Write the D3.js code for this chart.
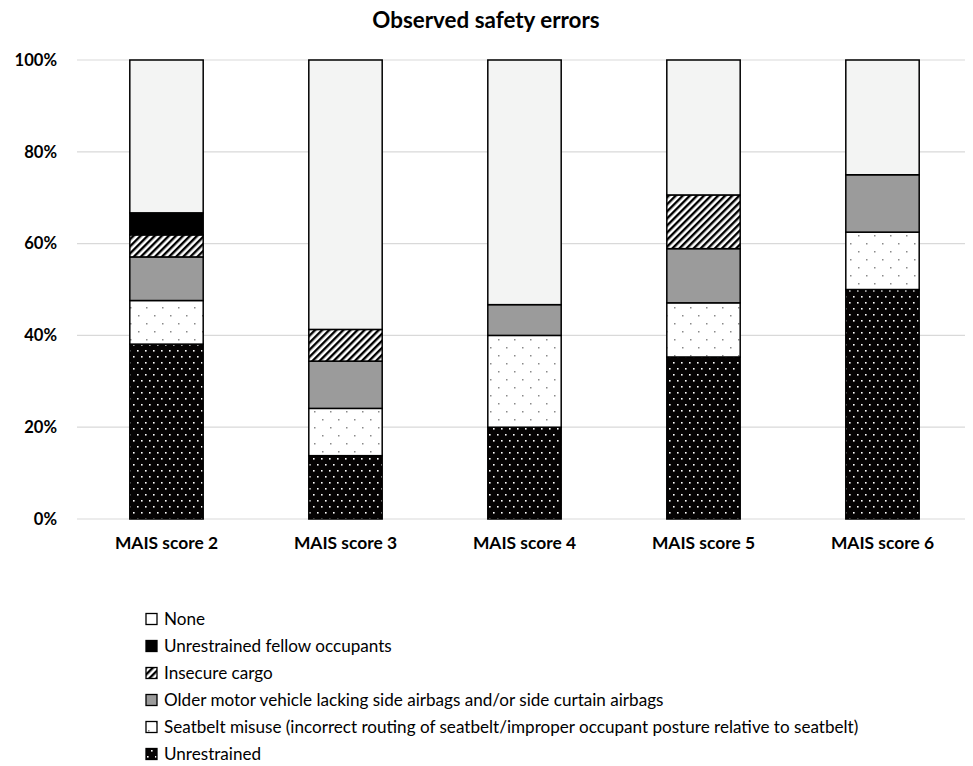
<!DOCTYPE html>
<html>
<head>
<meta charset="utf-8">
<script src="https://cdn.jsdelivr.net/npm/d3@7"></script>
<style>
  html, body { margin: 0; padding: 0; background: #ffffff; }
  svg { display: block; }
  text { font-family: Lato, "Open Sans", sans-serif; fill: #000; }
</style>
</head>
<body>
<div id="chart"></div>
<script>
// Categories (injury severity groups)
const categories = ["MAIS score 2", "MAIS score 3", "MAIS score 4", "MAIS score 5", "MAIS score 6"];

// Share of cases (%) per safety error, bottom to top of each stack
const unrestrained      = [38.1, 13.8, 20.0, 35.3, 50.0];
const seatbeltMisuse    = [9.5, 10.3, 20.0, 11.8, 12.5];
const olderVehicle      = [9.5, 10.3, 6.7, 11.8, 12.5];
const insecureCargo     = [4.8, 6.9, 0, 11.7, 0];
const fellowOccupants   = [4.8, 0, 0, 0, 0];
const none              = [33.3, 58.7, 53.3, 29.4, 25.0];

const seriesNames = [
  "Unrestrained",
  "Seatbelt misuse (incorrect routing of seatbelt/improper occupant posture relative to seatbelt)",
  "Older motor vehicle lacking side airbags and/or side curtain airbags",
  "Insecure cargo",
  "Unrestrained fellow occupants",
  "None"
];
const seriesValues = [unrestrained, seatbeltMisuse, olderVehicle, insecureCargo, fellowOccupants, none];
const yTicks = [0, 20, 40, 60, 80, 100];

const W = 973, H = 766;
const margin = { left: 77, right: 1, top: 60, bottom: 247 };

const svg = d3.select("#chart").append("svg").attr("width", W).attr("height", H);
const defs = svg.append("defs");

// Fill patterns
const pDots = defs.append("pattern").attr("id", "pat-unrestrained")
  .attr("patternUnits", "userSpaceOnUse").attr("width", 8).attr("height", 12);
pDots.append("rect").attr("width", 8).attr("height", 12).attr("fill", "#050303");
pDots.append("rect").attr("x", 1).attr("y", 2).attr("width", 1.6).attr("height", 1.6).attr("fill", "#ffffff");
pDots.append("rect").attr("x", 5).attr("y", 8).attr("width", 1.6).attr("height", 1.6).attr("fill", "#ffffff");

const pSparse = defs.append("pattern").attr("id", "pat-seatbelt")
  .attr("patternUnits", "userSpaceOnUse").attr("width", 16).attr("height", 16);
pSparse.append("rect").attr("width", 16).attr("height", 16).attr("fill", "#ffffff");
pSparse.append("rect").attr("x", 2).attr("y", 3).attr("width", 1.5).attr("height", 1.5).attr("fill", "#8a8a8a");
pSparse.append("rect").attr("x", 10).attr("y", 11).attr("width", 1.5).attr("height", 1.5).attr("fill", "#8a8a8a");

const pHatch = defs.append("pattern").attr("id", "pat-cargo")
  .attr("patternUnits", "userSpaceOnUse").attr("width", 5).attr("height", 5)
  .attr("patternTransform", "rotate(45)");
pHatch.append("rect").attr("width", 5).attr("height", 5).attr("fill", "#ffffff");
pHatch.append("rect").attr("x", 0).attr("y", 0).attr("width", 2.4).attr("height", 5).attr("fill", "#000000");

const fills = ["url(#pat-unrestrained)", "url(#pat-seatbelt)", "#9b9b9b", "url(#pat-cargo)", "#000000", "#f3f4f3"];

// Scales
const x = d3.scaleBand().domain(categories)
  .range([margin.left, W - margin.right]).paddingInner(0.59).paddingOuter(0.295);
const y = d3.scaleLinear().domain([0, 100]).range([H - margin.bottom, margin.top]);

// Title
svg.append("text").attr("x", 486).attr("y", 28).attr("text-anchor", "middle")
  .attr("font-weight", "bold").attr("font-size", 22.4).text("Observed safety errors");

// Grid
svg.append("g").selectAll("line").data(yTicks).join("line")
  .attr("x1", margin.left).attr("x2", W - 8)
  .attr("y1", d => y(d)).attr("y2", d => y(d))
  .attr("stroke", "#d9d9d9").attr("stroke-width", 1.2);

// Y axis labels
const yAxis = d3.axisLeft(y).tickValues(yTicks).tickFormat(d => d + "%").tickSize(0).tickPadding(0);
const gy = svg.append("g").attr("transform", "translate(57,0)").call(yAxis);
gy.select(".domain").remove();
gy.selectAll("text").attr("font-family", "Lato, 'Open Sans', sans-serif")
  .attr("font-size", 16.6).attr("font-weight", "bold").attr("fill", "#000");

// Stacks
const rows = categories.map((c, i) => {
  const o = { cat: c };
  seriesNames.forEach((s, j) => { o[s] = seriesValues[j][i]; });
  return o;
});
const stacked = d3.stack().keys(seriesNames)(rows);

const layers = svg.append("g").selectAll("g").data(stacked).join("g")
  .attr("fill", (d, i) => fills[i]);
layers.selectAll("rect").data(d => d.filter(p => p[1] - p[0] > 0)).join("rect")
  .attr("x", d => x(d.data.cat))
  .attr("width", x.bandwidth())
  .attr("y", d => y(d[1]))
  .attr("height", d => y(d[0]) - y(d[1]))
  .attr("stroke", "#000").attr("stroke-width", 1.5);

// X axis labels
const xAxis = d3.axisBottom(x).tickSize(0).tickPadding(0);
const gx = svg.append("g").attr("transform", `translate(0,${H - margin.bottom + 18})`).call(xAxis);
gx.select(".domain").remove();
gx.selectAll("text").attr("font-family", "Lato, 'Open Sans', sans-serif")
  .attr("font-size", 17.4).attr("font-weight", "bold").attr("fill", "#000");

// Legend (top entry is the top of the stack)
const legendOrder = seriesNames.map((s, i) => i).reverse();
const lg = svg.append("g").selectAll("g").data(legendOrder).join("g")
  .attr("transform", (d, k) => `translate(146,${619 + k * 27})`);
lg.append("rect").attr("x", 0).attr("y", -5.5).attr("width", 11).attr("height", 11)
  .attr("fill", d => d === 5 ? "#ffffff" : fills[d]).attr("stroke", "#000").attr("stroke-width", 1.3);
lg.append("text").attr("x", 18).attr("y", 0).attr("dy", "0.35em")
  .attr("font-size", 17.1).text(d => seriesNames[d]);
</script>
</body>
</html>
